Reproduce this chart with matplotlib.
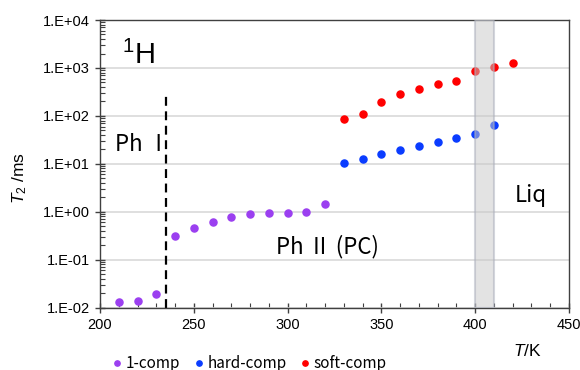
import numpy as np
import matplotlib
matplotlib.use('Agg')
from matplotlib import pyplot as plt
from matplotlib import font_manager
from matplotlib.ticker import FixedLocator, LogLocator, MultipleLocator, FuncFormatter

# T2 relaxation times (ms) vs temperature (K)
temp_one = [210, 220, 230, 240, 250, 260, 270, 280, 290, 300, 310, 320]
t2_one = [0.013, 0.014, 0.019, 0.32, 0.455, 0.62, 0.78, 0.92, 0.95, 0.96, 0.99, 1.45]

temp_hard = [330, 340, 350, 360, 370, 380, 390, 400, 410]
t2_hard = [10.3, 12.7, 16.2, 19.5, 24.0, 28.7, 35.3, 42.7, 66.0]

temp_soft = [330, 340, 350, 360, 370, 380, 390, 400, 410, 420]
t2_soft = [86.6, 112, 196, 287, 372, 464, 544, 852, 1050, 1270]

transition_t = 235
melt_range = (400, 410)

installed = {f.name for f in font_manager.fontManager.ttflist}
sans = next((n for n in ['Liberation Sans', 'Arimo', 'Roboto'] if n in installed), 'DejaVu Sans')
jp = ['Noto Sans CJK JP', 'DejaVu Sans']
plt.rcParams['font.family'] = [sans, 'DejaVu Sans']
plt.rcParams['mathtext.fontset'] = 'custom'
plt.rcParams['mathtext.rm'] = sans
plt.rcParams['mathtext.it'] = sans + ':italic'

fig = plt.figure(figsize=(5.8, 3.7), dpi=100)
ax = fig.add_axes([100 / 580, 1 - 307.7 / 370, 469 / 580, 287.7 / 370])

ax.scatter(temp_one, t2_one, s=26, color='#9b3ff0', label='1-comp', zorder=3)
ax.scatter(temp_hard, t2_hard, s=26, color='#0a3cff', label='hard-comp', zorder=3)
ax.scatter(temp_soft, t2_soft, s=26, color='#ff0000', label='soft-comp', zorder=3)

# melting region
ax.axvspan(*melt_range, facecolor='#c8c8c8', alpha=0.5, edgecolor='#a8adba',
           linewidth=1.5, zorder=4)

# phase I / II boundary
ax.plot([transition_t, transition_t], [0.01, 280], color='black', linestyle='--',
        dashes=(4, 2.5), linewidth=1.6, zorder=2)

ax.set_yscale('log')
ax.set_xlim(200, 450)
ax.set_ylim(1e-2, 1e4)
ax.yaxis.set_major_locator(FixedLocator([10.0 ** k for k in range(-2, 5)]))
ax.yaxis.set_minor_locator(LogLocator(base=10, subs=np.arange(2, 10), numticks=20))
ax.yaxis.set_major_formatter(FuncFormatter(lambda v, p: '1.E%+03d' % int(round(np.log10(v)))))
ax.xaxis.set_major_locator(MultipleLocator(50))
ax.xaxis.set_minor_locator(MultipleLocator(10))

ax.grid(True, axis='y', which='major', color='#d9d9d9', linewidth=1.2, zorder=0)
ax.set_axisbelow(True)
ax.tick_params(axis='both', which='major', direction='inout', length=7, width=1,
               labelsize=10.5, color='#404040', pad=4)
ax.tick_params(axis='both', which='minor', direction='in', length=3.5, width=0.8,
               color='#404040')
for s in ax.spines.values():
    s.set_color('#404040')
    s.set_linewidth(1)

ax.text(211.5, 1200, r'$^{\mathrm{1}}$H', fontsize=21, va='baseline', ha='left')
ax.text(208, 18.8, 'Ph Ⅰ', fontsize=16, va='baseline', ha='left', family=jp)
ax.text(294, 0.136, 'Ph Ⅱ (PC)', fontsize=16, va='baseline', ha='left', family=jp)
ax.text(421, 1.63, 'Liq', fontsize=16, va='baseline', ha='left', family=jp)

fig.text(527 / 580, 1 - 351 / 370, r'$\mathit{T}$/K', fontsize=12.5, ha='center', va='center')
fig.text(20 / 580, 1 - 178 / 370, r'$\mathit{T}_{\mathrm{2}}$ /ms', fontsize=12.5,
         ha='center', va='center', rotation=90)

leg = ax.legend(loc='center', bbox_to_anchor=(250 / 580, 1 - 363 / 370),
                bbox_transform=fig.transFigure, ncol=3, frameon=False,
                handlelength=0.5, handletextpad=0.3, columnspacing=1.0, markerscale=0.75,
                prop={'family': jp, 'size': 11})

fig.savefig('out.png', dpi=100)
